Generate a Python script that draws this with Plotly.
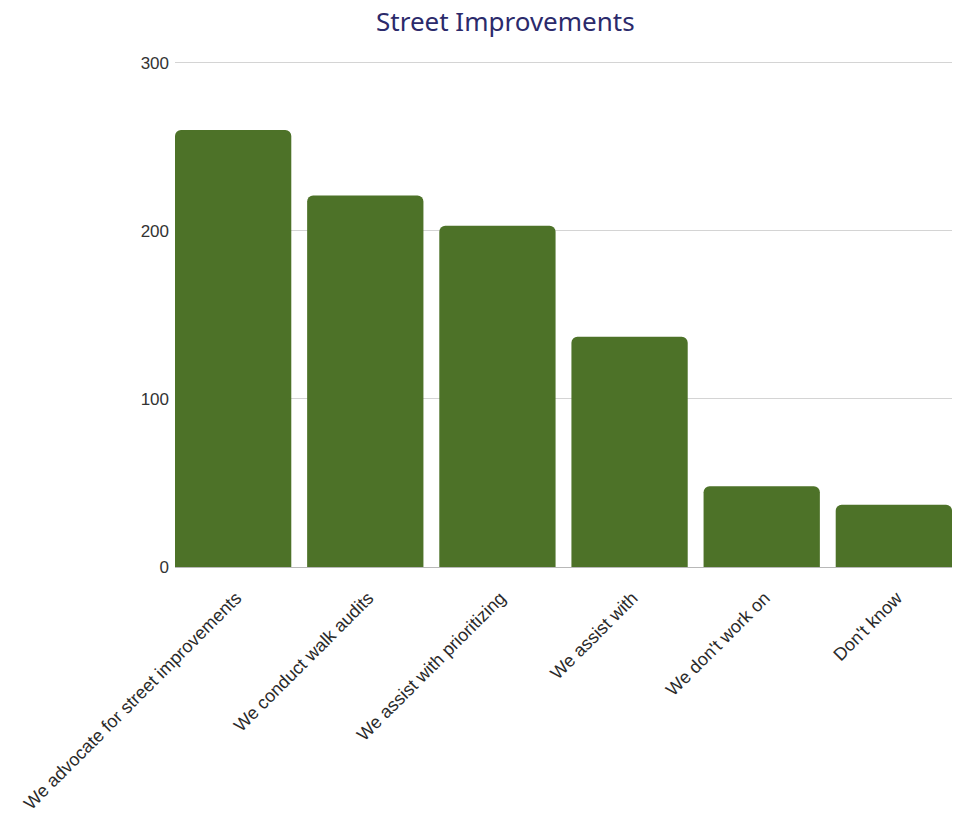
import plotly.graph_objects as go

# Survey responses: street improvement activities
categories = [
    "We advocate for street improvements",
    "We conduct walk audits",
    "We assist with prioritizing",
    "We assist with",
    "We don't work on",
    "Don't know",
]
counts = [260, 221, 203, 137, 48, 37]
y_ticks = [0, 100, 200, 300]

fig = go.Figure(
    go.Bar(
        x=categories,
        y=counts,
        marker=dict(color="#4d7228", cornerradius=6, line=dict(width=0)),
    )
)

fig.update_layout(
    width=961,
    height=820,
    margin=dict(l=175, r=9, t=61, b=253, autoexpand=False),
    paper_bgcolor="white",
    plot_bgcolor="white",
    bargap=0.12,
    showlegend=False,
    font=dict(family="Liberation Sans, Arial, sans-serif", size=18, color="#222222"),
    annotations=[
        dict(
            text="Street Improvements",
            xref="paper", yref="paper",
            x=(505 - 175) / 777, y=1 + (61 - 21) / 506,
            xanchor="center", yanchor="middle",
            showarrow=False,
            font=dict(family="Noto Sans, sans-serif", size=26, color="#2b2a6b"),
        )
    ],
)

fig.update_xaxes(
    range=[-0.44, 5.44],
    tickangle=-45,
    showgrid=False,
    showline=False,
    ticks="",
    automargin=False,
    ticklabelstandoff=16,
    ticklabelshift=3,
    tickfont=dict(size=18, color="#2a2a2a"),
)

fig.update_yaxes(
    range=[0, 301],
    tickvals=y_ticks,
    showgrid=True,
    gridcolor="#d4d4d4",
    gridwidth=1,
    zeroline=True,
    zerolinecolor="#b8b8b8",
    zerolinewidth=1,
    showline=False,
    ticks="",
    ticklabelstandoff=5,
    automargin=False,
    tickfont=dict(size=17, color="#333333"),
)

fig.write_html("out.html")
